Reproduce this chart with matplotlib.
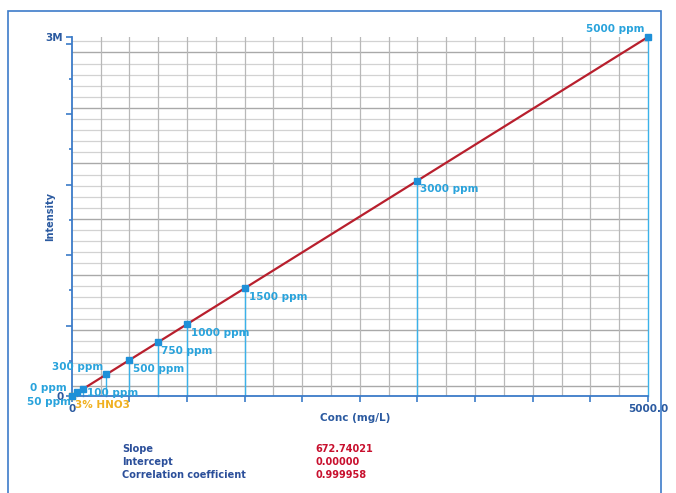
import numpy as np
import matplotlib
matplotlib.use("Agg")
import matplotlib.pyplot as plt
from matplotlib.patches import Rectangle

# Calibration standards (mg/L) and measured intensities
conc = [0, 50, 100, 300, 500, 750, 1000, 1500, 3000, 5000]
intensity = [0, 33600, 67300, 201800, 336400, 504600, 672700, 1009100, 2018200, 3363700]
labels = ["0 ppm", "50 ppm", "100 ppm", "300 ppm", "500 ppm", "750 ppm",
          "1000 ppm", "1500 ppm", "3000 ppm", "5000 ppm"]
blank_conc = [0]
blank_intensity = [0]
blank_label = "3% HNO3"

slope = 672.74021
intercept = 0.00000
corr = 0.999958
stat_names = ["Slope", "Intercept", "Correlation coefficient"]
stat_values = ["672.74021", "0.00000", "0.999958"]

x_max = 5000
y_max = 3363700

# label placement: (dx, dy) in pixels, horizontal alignment
label_offsets = {
    "0 ppm": (-5, 8, "right"),
    "50 ppm": (-6, -10, "right"),
    "100 ppm": (4, -4, "left"),
    "300 ppm": (-3, 7, "right"),
    "500 ppm": (4, -9, "left"),
    "750 ppm": (3, -9, "left"),
    "1000 ppm": (4, -9, "left"),
    "1500 ppm": (4, -9, "left"),
    "3000 ppm": (3, -8, "left"),
    "5000 ppm": (-3, 8, "right"),
}

plt.rcParams["font.family"] = ["DejaVu Sans"]

W, H = 676, 493
fig = plt.figure(figsize=(W / 100, H / 100), dpi=100)
ax = fig.add_axes([71.7 / W, 1 - 396 / H, (648 - 71.7) / W, (396 - 37) / H])

axis_blue = "#3b7bc8"
text_blue = "#2b5aa0"
point_blue = "#1e90d8"
label_blue = "#29a3dc"
drop_blue = "#3ab2ea"
fit_red = "#b81f2d"

ax.set_xlim(0, x_max)
ax.set_ylim(0, y_max)

# grid
px = y_max / 359.0
g0, gstep = 10.5 * px, 11.1 * px
k = 0
yg = g0
while yg < y_max:
    dark = (k % 5 == 0)
    ax.axhline(yg, color="#a9a9a9" if dark else "#d2d2d2", lw=1.0 if dark else 0.9, zorder=0)
    yg += gstep
    k += 1
for xv in np.arange(250, x_max, 250):
    ax.axvline(xv, color="#b8b8b8", lw=0.9, zorder=0)

# drop lines from each standard to the axis
for c, v in zip(conc, intensity):
    ax.plot([c, c], [0, v], color=drop_blue, lw=1.0, zorder=2, clip_on=False)

# fitted calibration line
xf = np.array([0, x_max])
ax.plot(xf, slope * xf + intercept, color=fit_red, lw=1.6, zorder=3)

# blank and standards
ax.plot(blank_conc, blank_intensity, "s", color="#f2b21e", ms=5, zorder=4, clip_on=False)
ax.plot(conc, intensity, "s", color=point_blue, ms=4.5, zorder=5, clip_on=False, ls="none")

for c, v, lab in zip(conc, intensity, labels):
    dx, dy, ha = label_offsets[lab]
    ax.annotate(lab, (c, v), xytext=(dx * 0.72, dy * 0.72), textcoords="offset points",
                ha=ha, va="center", color=label_blue, fontsize=7.5, fontweight="bold",
                zorder=6, annotation_clip=False)
ax.annotate(blank_label, (blank_conc[0], blank_intensity[0]), xytext=(3 * 0.72, -9 * 0.72),
            textcoords="offset points", ha="left", va="center", color="#f0b020",
            fontsize=7.5, fontweight="bold", zorder=6, annotation_clip=False)

# spines
for s in ("top", "right"):
    ax.spines[s].set_visible(False)
for s in ("left", "bottom"):
    ax.spines[s].set_color(axis_blue)
    ax.spines[s].set_linewidth(1.3)

# ticks
xt = np.arange(0, x_max + 1, 500)
ax.set_xticks(xt)
ax.set_xticklabels(["0"] + [""] * (len(xt) - 2) + ["5000.0"])
yt_major = list(np.arange(0, y_max, 660000)) + [y_max]
ax.set_yticks(yt_major)
ax.set_yticklabels(["0"] + [""] * (len(yt_major) - 2) + ["3M"])
ax.set_yticks(np.arange(330000, y_max, 660000), minor=True)
ax.tick_params(axis="both", colors=axis_blue, labelcolor=text_blue, labelsize=7.5,
               length=4, width=1.2, pad=2)
ax.tick_params(axis="y", which="minor", colors=axis_blue, length=2.5, width=1.2)
for t in ax.get_xticklabels() + ax.get_yticklabels():
    t.set_fontweight("bold")

ax.set_xlabel("Conc (mg/L)", color=text_blue, fontsize=7.5, fontweight="bold")
ax.xaxis.set_label_coords(0.492, -0.048)
ax.set_ylabel("Intensity", color=text_blue, fontsize=7, fontweight="bold")
ax.yaxis.set_label_coords(-0.029, 0.5)

# outer frame
fig.patches.append(Rectangle((8 / W, -0.1), (661 - 8) / W, (H - 11) / H + 0.1,
                             transform=fig.transFigure, fill=False,
                             edgecolor="#3d7cc9", lw=1.2))

# regression summary
for i, (name, val) in enumerate(zip(stat_names, stat_values)):
    yy = 1 - (449 + 13 * i) / H
    fig.text(122 / W, yy, name, color="#2b4f9a", fontsize=7, fontweight="bold", va="center")
    fig.text(315 / W, yy, val, color="#c8102e", fontsize=7, fontweight="bold", va="center")

fig.savefig("out.png", dpi=100)
